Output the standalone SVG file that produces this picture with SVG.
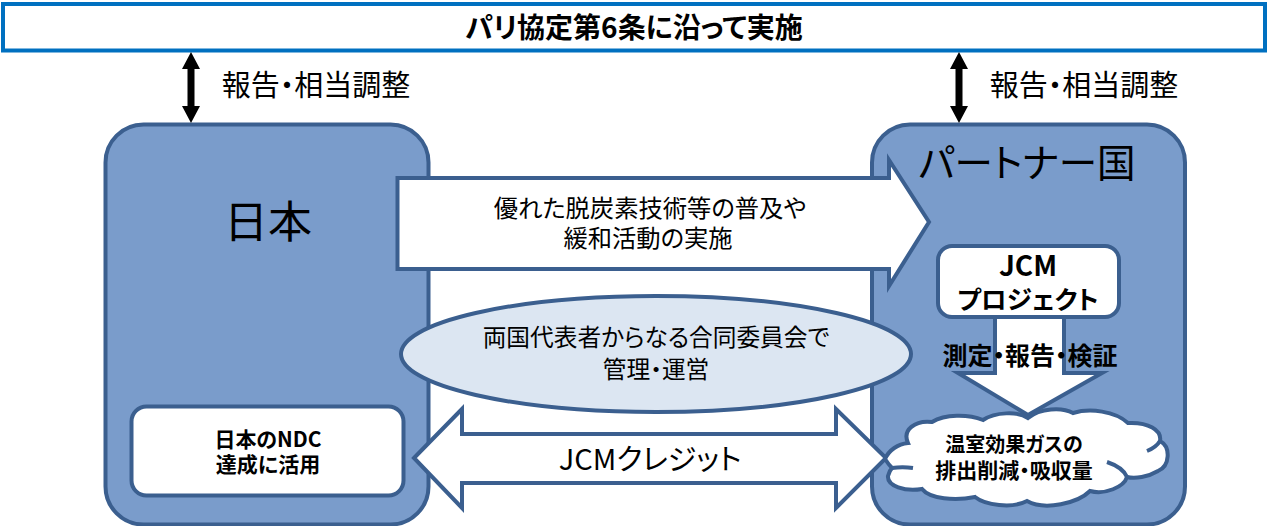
<svg xmlns="http://www.w3.org/2000/svg" width="1268" height="526" viewBox="0 0 1268 526">
<defs>
<style>
text{font-family:"Noto Sans CJK JP","Noto Sans",sans-serif;fill:#000;text-anchor:middle;font-feature-settings:"palt"}
.s{stroke:#3b5f8f;stroke-width:4;stroke-linejoin:miter}
.panel{fill:#7a9ccb}
.w{fill:#fff}
.b{font-weight:700}
</style>
</defs>
<rect width="1268" height="526" fill="#fff"/>
<g id="top-bar"><rect x="3" y="4" width="1262" height="46.500" fill="#fff" stroke="#0070c0" stroke-width="4"/>
<text x="634" y="38" font-size="28" class="b">パリ協定第6条に沿って実施</text></g>
<g id="japan"><rect x="105.500" y="124.500" width="323" height="400" rx="38" class="s panel"/>
<text x="268" y="238" font-size="44">日本</text></g>
<g id="partner"><rect x="872" y="124.500" width="313" height="400" rx="38" class="s panel"/>
<text x="1027" y="177" font-size="38.500">パートナー国</text></g>
<g id="connectors">
<path d="M191 52L200 69H194.500V106H200L191 123L182 106H187.500V69H182Z" fill="#000"/>
<path d="M959 52L968 69H962.500V106H968L959 123L950 106H955.500V69H950Z" fill="#000"/>
</g>
<g id="label-left"><text x="316" y="96" font-size="29">報告・相当調整</text></g>
<g id="label-right"><text x="1084" y="96" font-size="29">報告・相当調整</text></g>
<g id="arrow-tech"><path d="M397.500 178H889V160L929 222L889 286V269H397.500Z" class="s w"/>
<text font-size="24.300"><tspan x="650" y="217">優れた脱炭素技術等の普及や</tspan><tspan x="648" y="247">緩和活動の実施</tspan></text></g>
<g id="committee"><ellipse cx="656" cy="354" rx="255" ry="58" fill="#dce6f2" class="s"/>
<text font-size="23.700"><tspan x="656" y="346">両国代表者からなる合同委員会で</tspan><tspan x="656" y="378">管理・運営</tspan></text></g>
<g id="ndc"><rect x="131.500" y="406.500" width="272" height="89" rx="15" class="s w"/>
<text font-size="21" class="b"><tspan x="268" y="447">日本のNDC</tspan><tspan x="268" y="472">達成に活用</tspan></text></g>
<g id="credit-arrow"><path d="M414 458L462 409V434H836V409L886 458L836 508V483H462V508Z" class="s w"/>
<text x="650" y="470" font-size="29">JCMクレジット</text></g>
<g id="mrv-arrow"><path d="M995 316H1064V373H1102L1028 415L958 373H995Z" class="s w"/>
<text x="1030" y="365" font-size="25" class="b">測定・報告・検証</text></g>
<g id="project"><rect x="938" y="246" width="181" height="71" rx="14" class="s w"/>
<text class="b"><tspan x="1028" y="276" font-size="28">JCM</tspan><tspan x="1028" y="309" font-size="25.500">プロジェクト</tspan></text></g>
<g id="cloud"><path d="M885 459C889 450 898 444 908 443C902 430 915 420 932 422C945 414 968 414 983 420C995 412 1018 411 1028 418C1040 408 1062 407 1073 413C1090 408 1115 411 1128 423C1148 422 1162 430 1160 441C1171 447 1170 466 1158 471C1148 477 1135 479 1127 477C1124 487 1105 495 1090 491C1078 503 1045 511 1027 501C1012 509 985 505 975 497C955 501 930 499 922 489C905 492 887 486 888 476C889 472 890 470 892 468C889 465 887 462 885 459Z" class="s w"/>
<path d="M1147 451C1152 449 1157 446 1160 441M1107 462C1116 465 1124 470 1127 477M892 468C899 467 906 467 913 468" fill="none" class="s"/>
<text class="b"><tspan x="1014" y="452" font-size="20">温室効果ガスの</tspan><tspan x="1014" y="478" font-size="21">排出削減・吸収量</tspan></text></g>
</svg>
